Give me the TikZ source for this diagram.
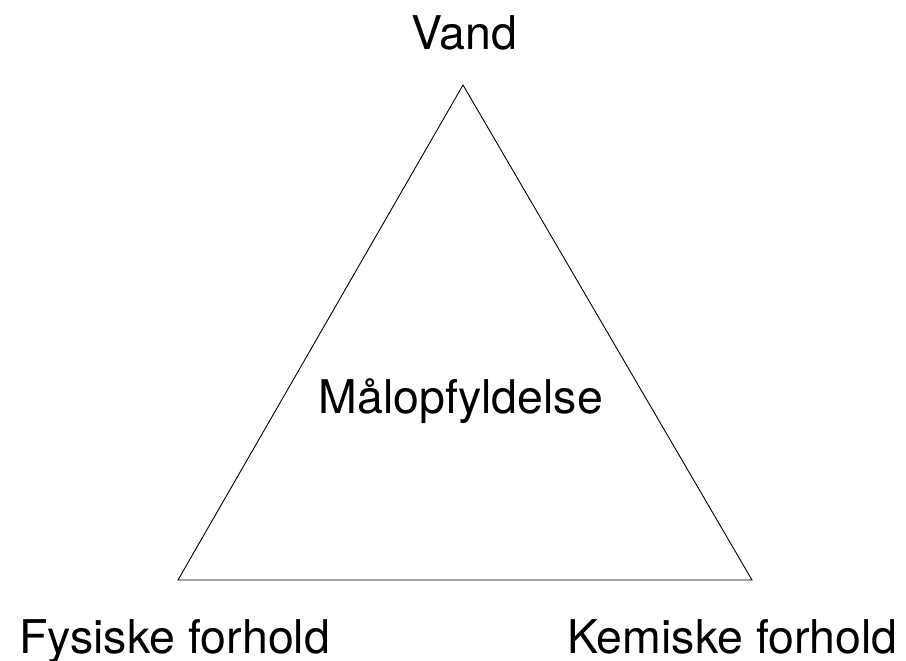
\documentclass[tikz,border=0pt]{standalone}
\usepackage{fontspec}
\setmainfont{TeX Gyre Heros}
\begin{document}
\begin{tikzpicture}[x=1pt,y=-1pt,
  lbl/.style={inner sep=0pt,font=\fontsize{46.5}{54}\selectfont},
  tri/.style={draw=black,line width=0.9pt,line join=miter}]
\useasboundingbox (0,0) rectangle (906,661);
\coordinate (top) at (463,85);
\coordinate (bl) at (178,580);
\coordinate (br) at (752,580);
\draw[tri] (top) -- (bl) -- (br) -- cycle;
\node[lbl,anchor=base] (vand) at (464,50) {Vand};
\node[lbl,anchor=base] (maal) at (461,413) {Målopfyldelse};
\node[lbl,anchor=base west] (fys) at (19,653) {Fysiske forhold};
\node[lbl,anchor=base west] (kem) at (567,653) {Kemiske forhold};
\end{tikzpicture}
\end{document}
